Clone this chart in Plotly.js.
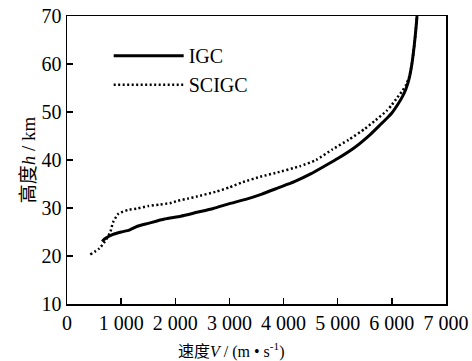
<!DOCTYPE html>
<html>
<head>
<meta charset="utf-8">
<script src="https://cdn.plot.ly/plotly-3.0.1.min.js"></script>
<style>html,body{margin:0;padding:0;background:#fff;}#chart{width:472px;height:361px;}</style>
</head>
<body>
<div id="chart"></div>
<script>
const igcV = [650, 700, 850, 1000, 1150, 1300, 1500, 1800, 2100, 2400, 2700, 3000, 3300, 3600, 3900, 4200, 4500, 4800, 5000, 5300, 5600, 5800, 5900, 6000, 6100, 6200, 6260, 6320, 6370, 6410, 6440, 6465];
const igcH = [23.0, 23.6, 24.5, 25.0, 25.4, 26.2, 26.8, 27.7, 28.3, 29.1, 29.9, 30.9, 31.8, 32.9, 34.2, 35.5, 37.1, 39.0, 40.3, 42.5, 45.3, 47.5, 48.6, 49.8, 51.4, 53.3, 54.8, 57.0, 60.0, 63.5, 66.8, 70.0];
const scigcV = [430, 600, 700, 800, 850, 950, 1130, 1300, 1500, 1700, 1900, 2050, 2250, 2400, 2750, 3000, 3250, 3600, 3850, 4300, 4600, 4900, 5200, 5500, 5700, 5900, 6000, 6100, 6200, 6260, 6320, 6370, 6410, 6440, 6465];
const scigcH = [20.3, 21.6, 23.0, 25.0, 27.0, 28.8, 29.6, 29.9, 30.4, 30.7, 31.0, 31.5, 32.0, 32.4, 33.4, 34.3, 35.4, 36.6, 37.3, 38.7, 40.0, 42.2, 44.2, 46.5, 48.3, 50.2, 51.5, 53.0, 54.5, 55.6, 57.3, 60.0, 63.5, 66.8, 70.0];
const xTickVals = [0, 1000, 2000, 3000, 4000, 5000, 6000, 7000];
const xTickText = ["0", "1 000", "2 000", "3 000", "4 000", "5 000", "6 000", "7 000"];
const yTickVals = [10, 20, 30, 40, 50, 60, 70];
const xTitle = '速度<i>V</i> / (m • s<sup>-1</sup>)';
const yTitle = '高度<i>h</i> / km';

const serif = "'Liberation Serif', 'Times New Roman', 'Noto Sans CJK SC', serif";
const fs = 20;

const traces = [
  {x: igcV, y: igcH, type: 'scatter', mode: 'lines', name: 'IGC', legendgroup: 'a',
   line: {color: '#000', width: 3, shape: 'spline', smoothing: 0.5}},
  {x: scigcV, y: scigcH, type: 'scatter', mode: 'lines', name: 'SCIGC', legendgroup: 'b',
   line: {color: '#000', width: 2.5, dash: '2px,2.5px', shape: 'spline', smoothing: 0.5}}
];

const layout = {
  width: 472, height: 361,
  margin: {l: 67, r: 26, t: 16, b: 57},
  paper_bgcolor: '#fff', plot_bgcolor: '#fff',
  font: {family: serif, size: fs, color: '#000'},
  showlegend: true,
  legend: {x: 0.11, y: 0.93, xanchor: 'left', yanchor: 'top', bgcolor: 'rgba(0,0,0,0)',
           itemwidth: 70, traceorder: 'grouped', tracegroupgap: 0,
           font: {family: serif, size: fs, color: '#000'}},
  xaxis: {range: [0, 7000], tickvals: xTickVals, ticktext: xTickText,
          ticks: 'inside', ticklen: 6, tickwidth: 1.5, tickcolor: '#000',
          showline: true, linecolor: '#000', linewidth: 1.5, mirror: true,
          showgrid: false, zeroline: false,
          tickfont: {family: serif, size: fs, color: '#000'}},
  yaxis: {range: [10, 70], tickvals: yTickVals, tickprefix: '\u00a0\u00a0',
          ticks: 'inside', ticklen: 6, tickwidth: 1.5, tickcolor: '#000',
          showline: true, linecolor: '#000', linewidth: 1.5, mirror: true,
          showgrid: false, zeroline: false,
          tickfont: {family: serif, size: fs, color: '#000'},
          title: {text: yTitle, font: {family: serif, size: 19, color: '#000'}, standoff: 1}},
  annotations: [
    {text: xTitle, xref: 'paper', yref: 'paper', x: 0.435, y: -0.16,
     xanchor: 'center', yanchor: 'middle', showarrow: false,
     font: {family: serif, size: 16, color: '#000'}}
  ]
};

Plotly.newPlot('chart', traces, layout, {staticPlot: true, displayModeBar: false});
</script>
</body>
</html>
